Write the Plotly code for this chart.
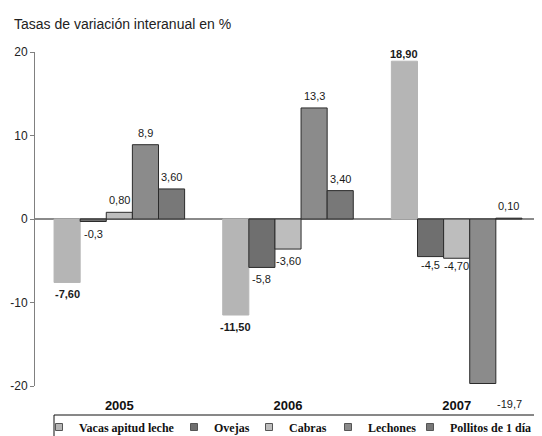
import plotly.graph_objects as go

# ---- data ----
years = ["2005", "2006", "2007"]
series_names = ["Vacas apitud leche", "Ovejas", "Cabras", "Lechones", "Pollitos de 1 día"]
vacas = [-7.6, -11.5, 18.9]
ovejas = [-0.3, -5.8, -4.5]
cabras = [0.8, -3.6, -4.7]
lechones = [8.9, 13.3, -19.7]
pollitos = [3.6, 3.4, 0.1]
label_decimals = [2, 1, 2, 1, 2]
y_tick_values = [-20, -10, 0, 10, 20]
y_tick_labels = ["-20", "-10", "0", "10", "20"]
title_text = "Tasas de variación interanual en %"

series_values = [vacas, ovejas, cabras, lechones, pollitos]

# ---- styles ----
W, H = 542, 436
OFF = 8  # page body margin
fill_colors = ["#b5b5b5", "#6f6f6f", "#bdbdbd", "#8b8b8b", "#787878"]
line_colors = ["#b5b5b5", "#2b2b2b", "#2b2b2b", "#2b2b2b", "#2b2b2b"]
bargap = 0.226
n = len(series_values)
bar_w = (1 - bargap) / n

fig = go.Figure()
for i, (name, vals) in enumerate(zip(series_names, series_values)):
    fig.add_trace(go.Bar(
        x=years, y=vals, name=name, showlegend=False,
        marker=dict(color=fill_colors[i], line=dict(color=line_colors[i], width=1)),
    ))

# legend entries (one small legend per series, so spacing matches the original)
legend_ids = ["legend", "legend2", "legend3", "legend4", "legend5"]
legend_x_px = [31, 166, 241, 320, 402]
for i, name in enumerate(series_names):
    fig.add_trace(go.Scatter(
        x=[None], y=[None], mode="markers", name=name, legend=legend_ids[i],
        marker=dict(symbol="square", size=7, color=fill_colors[i],
                    line=dict(color="#555555", width=1)),
        showlegend=True, hoverinfo="skip",
    ))

# value labels
annotations = []
label_nudges = {(0, 2): (0, -5), (3, 2): (27, -8), (1, 2): (0, 4), (2, 2): (0, 4)}
for i, vals in enumerate(series_values):
    for k, v in enumerate(vals):
        txt = f"{v:.{label_decimals[i]}f}".replace(".", ",")
        if i == 0:
            txt = f"<b>{txt}</b>"
        dx, dy = label_nudges.get((i, k), (0, 0))
        base = 12 if v >= 0 else -12
        annotations.append(dict(
            x=k + (i - (n - 1) / 2) * bar_w, y=v, xref="x", yref="y",
            text=txt, showarrow=False, xshift=dx, yshift=base + dy,
            font=dict(family="Liberation Sans, Arial", size=11, color="#1a1a1a"),
        ))

legends = {}
for i, lid in enumerate(legend_ids):
    legends[lid] = dict(
        x=legend_x_px[i] / W, xanchor="left", y=(H - (427 - OFF)) / H, yanchor="middle",
        orientation="h", bgcolor="rgba(0,0,0,0)", borderwidth=0,
        font=dict(family="Liberation Serif, Times New Roman", size=12,
                  color="#111111", weight="bold"),
        itemwidth=30,
    )

fig.update_layout(
    width=W, height=H,
    margin=dict(l=0, r=0, t=0, b=0, autoexpand=False),
    paper_bgcolor="white", plot_bgcolor="white",
    barmode="group", bargap=bargap, bargroupgap=0,
    title=dict(text=title_text, x=(14 - OFF) / W, xanchor="left",
               y=1 - (24 - OFF) / H, yanchor="middle",
               font=dict(family="Liberation Sans, Arial", size=14, color="#222222")),
    xaxis=dict(type="category", domain=[(35 - OFF) / W, (541 - OFF) / W], range=[-0.5, 2.5],
               showline=False, showgrid=False, zeroline=False,
               ticks="outside", ticklen=7, tickcolor="rgba(0,0,0,0)",
               tickfont=dict(family="Liberation Sans, Arial", size=13, color="#111111",
                             weight="bold")),
    yaxis=dict(domain=[(H - (386 - OFF)) / H, (H - (52 - OFF)) / H], range=[-20, 20],
               tickvals=y_tick_values, ticktext=y_tick_labels,
               showline=True, linecolor="#808080", linewidth=1,
               ticks="outside", ticklen=4, tickcolor="#808080",
               showgrid=False, zeroline=True, zerolinecolor="#8a8a8a", zerolinewidth=1.5,
               tickfont=dict(family="Liberation Sans, Arial", size=12, color="#222222")),
    annotations=annotations,
    shapes=[dict(type="rect", xref="paper", yref="paper",
                 x0=(54 - OFF) / W, x1=1.05, y0=-0.1, y1=(H - (415 - OFF)) / H,
                 line=dict(color="#111111", width=1), fillcolor="rgba(0,0,0,0)")],
    showlegend=True,
    **legends,
)

fig.write_html("out.html")
